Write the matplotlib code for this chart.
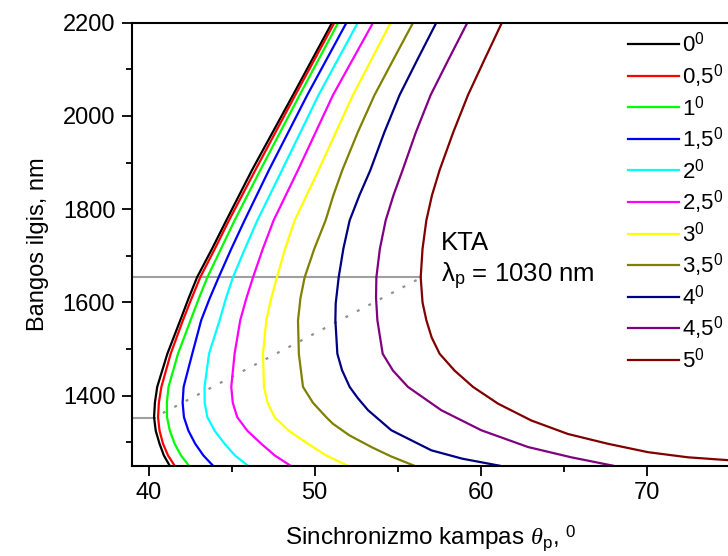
import matplotlib.pyplot as plt
from matplotlib.ticker import MultipleLocator

plt.rcParams['font.family'] = ['Liberation Sans', 'DejaVu Sans']
plt.rcParams['mathtext.fontset'] = 'custom'
plt.rcParams['mathtext.rm'] = 'Liberation Sans'
plt.rcParams['mathtext.it'] = 'Liberation Serif:italic'

# Wavelength (nm) sample levels (inner curves)
wl_std = [2200, 2045, 1884, 1776, 1715, 1654, 1608, 1562, 1490, 1419, 1385, 1354, 1325, 1297, 1272, 1250]

# Phase-matching angle (deg) for each deviation angle
ang_0 = [51.05, 48.70, 46.23, 44.68, 43.82, 42.92, 42.40, 41.91, 41.13, 40.52, 40.38, 40.33, 40.43, 40.66, 40.92, 41.27]
ang_05 = [51.19, 48.84, 46.43, 44.84, 43.99, 43.11, 42.58, 42.07, 41.33, 40.77, 40.62, 40.57, 40.66, 40.87, 41.17, 41.57]
ang_1 = [51.42, 49.10, 46.73, 45.18, 44.36, 43.54, 43.02, 42.53, 41.77, 41.20, 41.10, 41.11, 41.28, 41.57, 41.95, 42.43]
ang_15 = [51.92, 49.56, 47.25, 45.78, 44.98, 44.22, 43.67, 43.17, 42.63, 42.11, 42.05, 42.13, 42.40, 42.81, 43.30, 43.88]
ang_2 = [52.60, 50.24, 48.04, 46.55, 45.80, 45.08, 44.65, 44.28, 43.64, 43.37, 43.38, 43.54, 43.98, 44.58, 45.20, 45.99]
ang_25 = [53.52, 51.11, 49.00, 47.53, 46.88, 46.29, 45.88, 45.52, 45.18, 44.98, 45.07, 45.34, 45.95, 46.79, 47.60, 48.55]
ang_3 = [54.58, 52.31, 50.24, 48.80, 48.22, 47.73, 47.38, 47.09, 46.89, 46.95, 47.17, 47.59, 48.45, 49.60, 50.70, 51.99]

wl_35 = [2200, 2120, 2045, 1965, 1884, 1830, 1776, 1715, 1654, 1610, 1562, 1490, 1419, 1385, 1354, 1340, 1315, 1290, 1270, 1250]
ang_35 = [55.93, 54.73, 53.61, 52.60, 51.67, 51.13, 50.66, 49.98, 49.40, 49.15, 49.00, 49.05, 49.30, 49.90, 50.70, 51.10, 52.10, 53.42, 54.60, 56.00]

wl_4 = [2200, 2120, 2045, 1965, 1884, 1830, 1776, 1715, 1654, 1598, 1562, 1490, 1455, 1419, 1395, 1369, 1326, 1283, 1265, 1250]
ang_4 = [57.33, 56.18, 55.12, 54.20, 53.36, 52.70, 52.11, 51.73, 51.45, 51.27, 51.25, 51.37, 51.65, 52.11, 52.60, 53.22, 54.62, 57.03, 58.90, 61.14]

wl_45 = [2200, 2120, 2045, 1965, 1884, 1830, 1776, 1715, 1654, 1610, 1562, 1490, 1454, 1419, 1369, 1326, 1290, 1268, 1250]
ang_45 = [59.20, 58.05, 56.99, 56.10, 55.30, 54.75, 54.28, 53.93, 53.72, 53.70, 53.78, 54.10, 54.72, 55.62, 57.63, 60.04, 62.86, 65.46, 67.98]

wl_5 = [2200, 2120, 2045, 1965, 1884, 1830, 1776, 1715, 1654, 1600, 1562, 1525, 1490, 1454, 1419, 1383, 1347, 1318, 1297, 1279, 1268, 1262]
ang_5 = [61.28, 60.22, 59.24, 58.35, 57.53, 57.07, 56.73, 56.50, 56.39, 56.50, 56.73, 57.05, 57.53, 58.43, 59.54, 61.05, 63.05, 65.26, 67.67, 70.08, 72.49, 74.86]

series = [
    (ang_0, wl_std, '0$^0$', 'black'),
    (ang_05, wl_std, '0,5$^0$', '#ff0000'),
    (ang_1, wl_std, '1$^0$', '#00ff00'),
    (ang_15, wl_std, '1,5$^0$', '#0000ff'),
    (ang_2, wl_std, '2$^0$', '#00ffff'),
    (ang_25, wl_std, '2,5$^0$', '#ff00ff'),
    (ang_3, wl_std, '3$^0$', '#ffff00'),
    (ang_35, wl_35, '3,5$^0$', '#808000'),
    (ang_4, wl_4, '4$^0$', '#000080'),
    (ang_45, wl_45, '4,5$^0$', '#800080'),
    (ang_5, wl_5, '5$^0$', '#800000'),
]

# Guide lines: minima of the 0 and 5 degree curves
min_lo = (40.36, 1353)
min_hi = (56.39, 1654)

fig = plt.figure(figsize=(7.28, 5.56), dpi=100)
ax = fig.add_axes([0.1813, 0.1624, 0.821, 0.7968])

ax.plot([39, min_hi[0]], [min_hi[1], min_hi[1]], color='#a0a0a0', lw=1.5, zorder=1)
ax.plot([39, min_lo[0]], [min_lo[1], min_lo[1]], color='#a0a0a0', lw=1.5, zorder=1)
ax.plot([min_lo[0] + 0.5, min_hi[0] - 0.2], [min_lo[1] + 10, min_hi[1] - 5],
        color='#909090', lw=1.6, linestyle=(0, (1.3, 4.5)), zorder=1)

for xs, ys, lab, col in series:
    ax.plot(xs, ys, color=col, lw=1.6, label=lab, zorder=2)

ax.set_xlim(39, 75)
ax.set_ylim(1250, 2200)
ax.xaxis.set_major_locator(MultipleLocator(10))
ax.xaxis.set_minor_locator(MultipleLocator(5))
ax.yaxis.set_major_locator(MultipleLocator(200))
ax.yaxis.set_minor_locator(MultipleLocator(100))
ax.tick_params(which='both', direction='out', width=1.3, labelsize=17, top=False, right=False)
ax.tick_params(which='major', length=7, pad=5)
ax.tick_params(which='minor', length=4.5)
ax.spines['right'].set_visible(False)
for s in ['left', 'bottom', 'top']:
    ax.spines[s].set_linewidth(1.5)

ax.set_xlabel(r'Sinchronizmo kampas $\mathit{\theta}_\mathrm{p}$, $^0$', fontsize=17.5, labelpad=14)
ax.set_ylabel('Bangos ilgis, nm', fontsize=17, labelpad=10)

ax.text(57.6, 1727, 'KTA', fontsize=18.5, va='center')
ax.text(57.6, 1655, r'λ$_\mathrm{p}$ = 1030 nm', fontsize=18.5, va='center')

ax.legend(loc='upper right', bbox_to_anchor=(1.012, 1.008), frameon=False, fontsize=16,
          handlelength=2.3, handletextpad=0.15, labelspacing=0.25, borderaxespad=0.2)

fig.savefig('out.png', dpi=100)
